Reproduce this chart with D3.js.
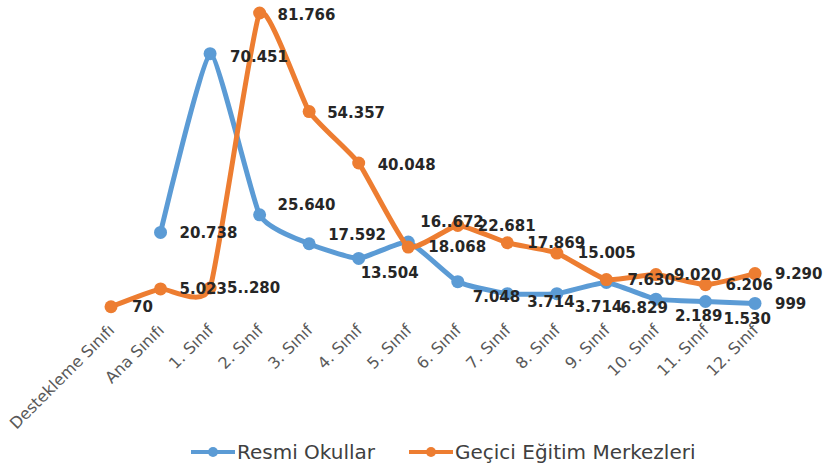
<!DOCTYPE html>
<html>
<head>
<meta charset="utf-8">
<script src="https://cdn.jsdelivr.net/npm/d3@7"></script>
<style>
  html, body { margin: 0; padding: 0; background: #fff; }
  svg { display: block; }
</style>
</head>
<body>
<svg id="chart" width="828" height="468"></svg>
<script>
// ---- data ----
const categories = ["Destekleme Sınıfı", "Ana Sınıfı", "1. Sınıf", "2. Sınıf", "3. Sınıf", "4. Sınıf",
  "5. Sınıf", "6. Sınıf", "7. Sınıf", "8. Sınıf", "9. Sınıf", "10. Sınıf", "11. Sınıf", "12. Sınıf"];
const seriesNames = ["Resmi Okullar", "Geçici Eğitim Merkezleri"];
const resmiOkullar = [null, 20738, 70451, 25640, 17592, 13504, 18068, 7048, 3714, 3714, 6829, 2189, 1530, 999];
const geciciEgitim = [70, 5023, 5280, 81766, 54357, 40048, 16672, 22681, 17869, 15005, 7630, 9020, 6206, 9290];
// label texts exactly as printed in the source
const geciciLabelText = {2: "5..280", 6: "16..672"};

// ---- label placement offsets (layout only) ----
const resmiLabelDx = [0, 19, 20, 18, 19, 2, 20, 15, 20, 18, 14, 19, 18, 20];
const resmiLabelDy = [0, 0, 3, -10, -9, 14, 5, 15, 8, 13, 25, 16, 17, 0];
const geciciLabelDx = [21, 19, 17, 18, 18, 19, 12, 20, 20, 21, 21, 18, 20, 20];
const geciciLabelDy = [0, 0, 0, 2, 1, 2, -25, 0, 0, 0, 0, 0, 0, 0];

const colors = ["#5B9BD5", "#ED7D31"];

const svg = d3.select("#chart");
const x = d3.scalePoint().domain(categories).range([111, 755]);
const y = d3.scaleLinear().domain([0, 81766]).range([307, 13]);

const fmt = d3.formatLocale({decimal: ",", thousands: ".", grouping: [3], currency: ["", ""]}).format(",d");

const series = [
  {name: seriesNames[0], values: resmiOkullar, color: colors[0], dx: resmiLabelDx, dy: resmiLabelDy, text: {}},
  {name: seriesNames[1], values: geciciEgitim, color: colors[1], dx: geciciLabelDx, dy: geciciLabelDy, text: geciciLabelText}
];

const line = d3.line()
  .defined(d => d.v !== null)
  .x(d => x(d.c))
  .y(d => y(d.v))
  .curve(d3.curveCardinal.tension(0.55));

series.forEach(s => {
  const pts = categories.map((c, i) => ({c, v: s.values[i], i}));
  svg.append("path")
    .datum(pts)
    .attr("fill", "none")
    .attr("stroke", s.color)
    .attr("stroke-width", 5)
    .attr("stroke-linejoin", "round")
    .attr("d", line);
  svg.append("g").selectAll("circle")
    .data(pts.filter(d => d.v !== null))
    .join("circle")
    .attr("cx", d => x(d.c))
    .attr("cy", d => y(d.v))
    .attr("r", 6.5)
    .attr("fill", s.color);
});

// data labels
series.forEach(s => {
  const pts = categories.map((c, i) => ({c, v: s.values[i], i})).filter(d => d.v !== null);
  svg.append("g").selectAll("text")
    .data(pts)
    .join("text")
    .attr("x", d => x(d.c) + s.dx[d.i])
    .attr("y", d => y(d.v) + s.dy[d.i])
    .attr("dy", "0.36em")
    .attr("font-family", "DejaVu Sans")
    .attr("font-weight", "bold")
    .attr("font-size", 15)
    .attr("fill", "#262626")
    .text(d => s.text[d.i] !== undefined ? s.text[d.i] : fmt(d.v));
});

// x axis tick labels (no axis line)
const xAxis = d3.axisBottom(x).tickSize(0).tickPadding(0);
const gx = svg.append("g").attr("transform", "translate(0,331)").call(xAxis);
gx.select(".domain").remove();
gx.selectAll("text")
  .attr("font-family", "DejaVu Sans")
  .attr("font-size", 16)
  .attr("fill", "#595959")
  .attr("text-anchor", "end")
  .attr("dy", 0)
  .attr("y", 0)
  .attr("transform", "translate(4,0) rotate(-45)");

// legend
const legendItems = [
  {name: seriesNames[0], color: colors[0], x0: 191},
  {name: seriesNames[1], color: colors[1], x0: 409}
];
const lg = svg.append("g");
legendItems.forEach(it => {
  const g = lg.append("g").attr("transform", `translate(${it.x0},452)`);
  g.append("line").attr("x1", 0).attr("x2", 44).attr("y1", 0).attr("y2", 0)
    .attr("stroke", it.color).attr("stroke-width", 4);
  g.append("circle").attr("cx", 22).attr("cy", 0).attr("r", 5).attr("fill", it.color);
  g.append("text").attr("x", 46).attr("y", 0).attr("dy", "0.36em")
    .attr("font-family", "DejaVu Sans").attr("font-size", 20).attr("fill", "#404040")
    .text(it.name);
});
</script>
</body>
</html>
